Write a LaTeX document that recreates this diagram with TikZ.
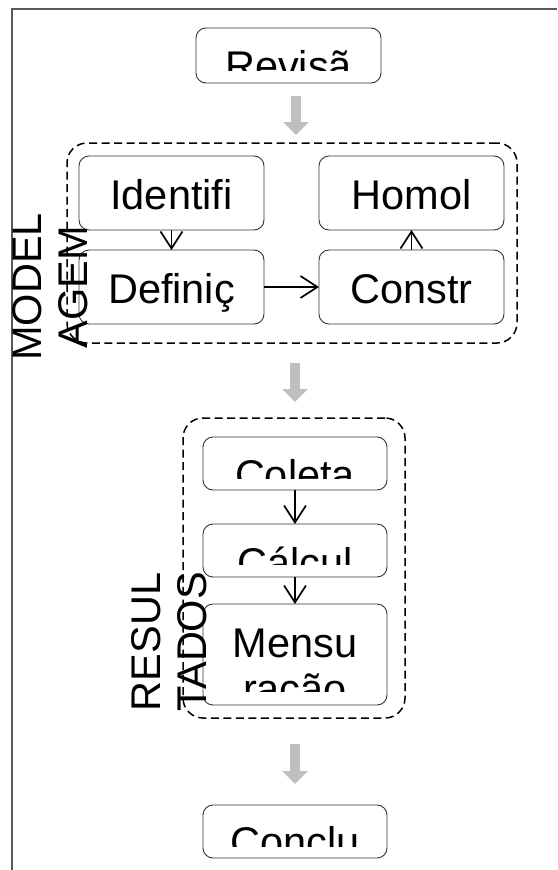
\documentclass[tikz,border=0pt]{standalone}
\usepackage{fontspec}
\setmainfont{Liberation Sans}
\usetikzlibrary{arrows.meta}
\begin{document}
\begin{tikzpicture}[x=1pt,y=-1pt,
  big/.style={font=\fontsize{41.5}{46}\selectfont},
  box/.style={draw=black!80, line width=0.9pt, rounded corners=10pt, inner sep=0pt, outer sep=0pt, anchor=north west},
  tbox/.style={box, big, text height=32pt, text depth=0pt, minimum width=185pt, minimum height=74pt},
  cbox/.style={box, minimum width=184pt, minimum height=53pt},
  group/.style={draw=black, line width=1.5pt, dash pattern=on 8pt off 4.5pt, rounded corners=20pt, inner sep=0pt, outer sep=0pt, anchor=north west},
  arr/.style={draw=black, line width=1.7pt, -{Straight Barb[length=17pt,width=22pt]}},
  bigarrow/.style={draw=black!25, line width=10pt, -{Triangle[length=13pt,width=25pt]}},
  frame/.style={draw=black!65, line width=1.3pt},
  lbl/.style={big, inner sep=0pt, anchor=base},
  side/.style={big, inner sep=0pt, rotate=90, align=center},
]
\useasboundingbox (0,0) rectangle (557,870);
\draw[frame] (12,870) -- (12,9) -- (557,9);

% groups
\node[group, minimum width=450pt, minimum height=200pt] (modg) at (67,143) {};
\node[group, minimum width=222pt, minimum height=300pt] (resg) at (183,418) {};

% modelagem boxes
\node[tbox] (ident) at (79,156) {Identifi};
\node[tbox] (homol) at (319,156) {Homol};
\node[tbox] (def) at (79,250) {Definiç};
\node[tbox] (constr) at (319,250) {Constr};

% clipped boxes
\node[box, minimum width=185pt, minimum height=55pt] (rev) at (196,28) {};
\node[cbox] (coleta) at (203,437) {};
\node[cbox] (calc) at (203,524) {};
\node[box, minimum width=184pt, minimum height=101pt] (mensu) at (203,604) {};
\node[cbox] (conc) at (203,805) {};

\begin{scope}
\clip (rev.north west) rectangle ([yshift=13pt]rev.south east);
\node[lbl] (revt) at ([yshift=-52pt]rev.north) {Revisã};
\end{scope}
\begin{scope}
\clip (coleta.north west) rectangle ([yshift=12pt]coleta.south east);
\node[lbl] (coletat) at ([yshift=-52pt]coleta.north) {Coleta};
\end{scope}
\begin{scope}
\clip (calc.north west) rectangle ([yshift=13pt]calc.south east);
\node[lbl] (calct) at ([yshift=-53pt]calc.north) {Cálcul};
\end{scope}
\begin{scope}
\clip (mensu.north west) rectangle ([yshift=14pt]mensu.south east);
\node[lbl] (mensut) at ([yshift=-53pt]mensu.north) {Mensu};
\node[lbl] (mensut2) at ([yshift=-99pt]mensu.north) {ração};
\end{scope}
\begin{scope}
\clip (conc.north west) rectangle ([yshift=12pt]conc.south east);
\node[lbl] (conct) at ([yshift=-51pt]conc.north) {Conclu};
\end{scope}

% black arrows
\draw[arr] (ident) -- (def);
\draw[arr] (def) -- (constr);
\draw[arr] (constr) -- (homol);
\draw[arr] (coleta) -- (calc);
\draw[arr] (calc) -- (mensu);

% grey arrows
\coordinate (a1) at ([xshift=7.5pt]rev.south);
\draw[bigarrow, shorten <=13pt, shorten >=8pt] (a1) -- (a1 |- modg.north);
\draw[bigarrow, shorten <=20pt, shorten >=16pt] (modg.south -| coleta) -- (resg.north -| coleta);
\draw[bigarrow, shorten <=26pt, shorten >=21pt] (resg.south -| conc) -- (conc.north);

% side labels
\node[side] (modl) at (50,287) {MODEL\\AGEM};
\node[side] (resl) at (169,642) {RESUL\\TADOS};
\end{tikzpicture}
\end{document}
